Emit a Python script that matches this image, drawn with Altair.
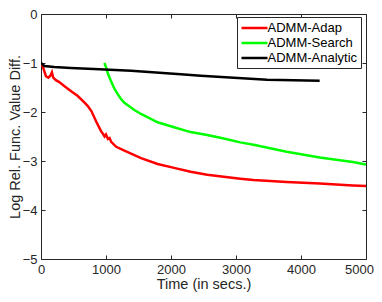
import altair as alt
import pandas as pd

series_names = ["ADMM-Adap", "ADMM-Search", "ADMM-Analytic"]
series_colors = ["#ff0000", "#00ff00", "#000000"]

adap_t = [0, 26, 52, 76, 113, 144, 168, 189, 229, 281, 357, 458, 561, 663, 720, 775, 851, 900, 927, 950, 978, 1000, 1030, 1055, 1080, 1157, 1283, 1539, 1794, 2047, 2302, 2557, 2811, 3066, 3269, 3780, 4288, 4797, 5000]
adap_v = [-1.00, -1.07, -1.17, -1.27, -1.30, -1.26, -1.19, -1.30, -1.35, -1.39, -1.47, -1.57, -1.67, -1.80, -1.88, -1.98, -2.20, -2.33, -2.40, -2.44, -2.50, -2.46, -2.55, -2.53, -2.61, -2.71, -2.79, -2.94, -3.06, -3.14, -3.22, -3.28, -3.32, -3.36, -3.39, -3.43, -3.46, -3.50, -3.51]

search_t = [975, 1000, 1030, 1080, 1131, 1183, 1233, 1283, 1436, 1539, 1794, 2047, 2302, 2557, 2811, 3066, 3269, 3780, 4288, 4797, 5000]
search_v = [-1.00, -1.08, -1.22, -1.38, -1.53, -1.64, -1.74, -1.81, -1.96, -2.04, -2.21, -2.31, -2.41, -2.47, -2.54, -2.62, -2.67, -2.81, -2.93, -3.02, -3.07]

analytic_t = [0, 52, 205, 458, 815, 1386, 2150, 2458, 2967, 3477, 4287]
analytic_v = [-1.00, -1.06, -1.08, -1.10, -1.12, -1.16, -1.23, -1.26, -1.30, -1.34, -1.36]

x_ticks = [0, 1000, 2000, 3000, 4000, 5000]
y_ticks = [-5, -4, -3, -2, -1, 0]

rows = []
for name, ts, vs in [(series_names[0], adap_t, adap_v),
                     (series_names[1], search_t, search_v),
                     (series_names[2], analytic_t, analytic_v)]:
    for i, (t, v) in enumerate(zip(ts, vs)):
        rows.append({"series": name, "t": t, "v": v, "order": i})
df = pd.DataFrame(rows)

FONT = "Liberation Sans"
AX = "#262626"

xscale = alt.Scale(domain=[0, 5000], nice=False, zero=False)
yscale = alt.Scale(domain=[-5, 0], nice=False, zero=False)

main = alt.Chart(df).mark_line(strokeWidth=2.5, clip=True).encode(
    x=alt.X("t:Q", scale=xscale, title="Time (in secs.)",
            axis=alt.Axis(values=x_ticks, ticks=False, grid=False, domain=False,
                          labelPadding=4, labelFontSize=13, titleFontSize=14.5,
                          titleFontWeight="normal", titlePadding=1,
                          labelOffset={"condition": {"test": "datum.value >= 5000", "value": -7}, "value": 0},
                          labelColor=AX, titleColor=AX, labelFont=FONT, titleFont=FONT,
                          labelFlush=False, format="d")),
    y=alt.Y("v:Q", scale=yscale, title="Log Rel. Func. Value Diff.",
            axis=alt.Axis(values=y_ticks, ticks=False, grid=False, domain=False,
                          labelPadding=4, labelFontSize=13, titleFontSize=14.5,
                          titleFontWeight="normal", titlePadding=0,
                          labelColor=AX, titleColor=AX, labelFont=FONT, titleFont=FONT,
                          labelFlush=False, format="d")),
    color=alt.Color("series:N", scale=alt.Scale(domain=series_names, range=series_colors),
                    legend=alt.Legend(title=None, orient="none", legendX=196, legendY=3,
                                      symbolType="M-2,0L2,0", symbolSize=169, symbolStrokeWidth=2.5,
                                      symbolOffset=6.5,
                                      labelFontSize=13, labelFont=FONT, labelColor="#000000",
                                      strokeColor=AX, fillColor="white", padding=3,
                                      rowPadding=0, labelOffset=5, labelLimit=200)),
    order="order:Q",
)

def tick_layer(xorient, yorient):
    return alt.Chart(df).mark_point(opacity=0).encode(
        x=alt.X("t:Q", scale=xscale,
                axis=alt.Axis(orient=xorient, values=x_ticks, labels=False, title=None, grid=False,
                              domain=False, ticks=True, tickSize=4, offset=-4, tickColor=AX)),
        y=alt.Y("v:Q", scale=yscale,
                axis=alt.Axis(orient=yorient, values=y_ticks, labels=False, title=None, grid=False,
                              domain=False, ticks=True, tickSize=4, offset=-4, tickColor=AX)),
    )

chart = alt.layer(main, tick_layer("bottom", "left"), tick_layer("top", "right")).resolve_axis(
    x="independent", y="independent"
).properties(
    width=325, height=245,
    autosize=alt.AutoSizeParams(type="none"),
    padding={"left": 33, "top": 6, "right": 8, "bottom": 35},
    background="white",
).configure_view(stroke=AX, strokeWidth=1)

chart.save("out.html", embed_options={"renderer": "svg", "actions": False})
